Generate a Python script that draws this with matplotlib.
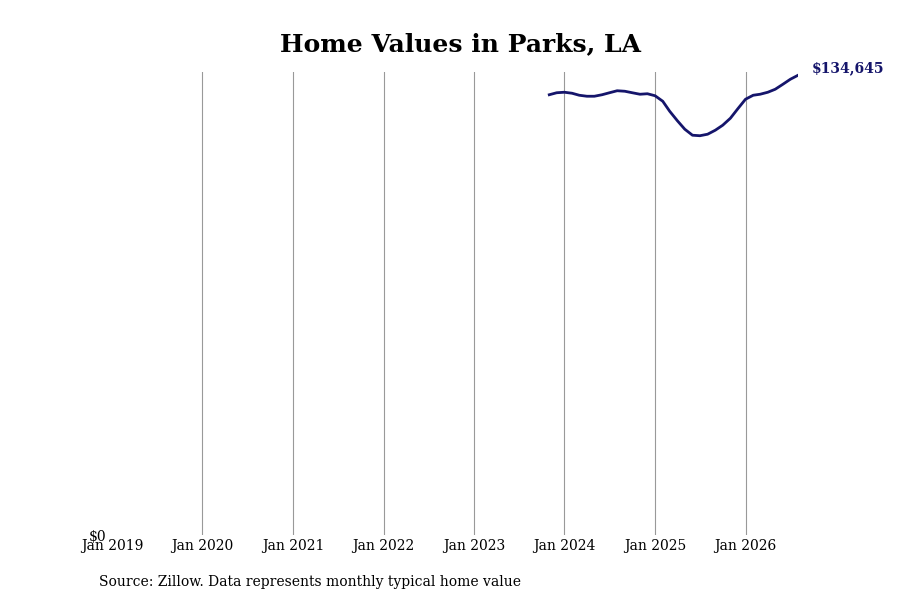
import matplotlib
matplotlib.use("Agg")
import matplotlib.pyplot as plt
import pandas as pd

# monthly typical home value, Nov 2023 - Aug 2026
start_month = "2023-11-01"
values = [
    128939, 129524, 129671, 129378, 128792, 128500, 128500, 128939,
    129524, 130110, 129963, 129524, 129085, 129232, 128646, 127036,
    124109, 121328, 118840, 117084, 116938, 117377, 118548, 120011,
    122060, 124841, 127622, 128792, 129085, 129671, 130549, 132013,
    133476, 134645,
]
years = list(range(2019, 2027))
tick_labels = ["Jan {}".format(y) for y in years]

dates = pd.date_range(start_month, periods=len(values), freq="MS")
line_color = "#15156b"

plt.rcParams["font.family"] = "DejaVu Serif"

fig = plt.figure(figsize=(9, 6), dpi=100)
ax = fig.add_axes([0.1244, 0.1083, 0.7623, 0.7717])

ax.plot(dates, values, color=line_color, linewidth=2)

tick_dates = [pd.Timestamp(y, 1, 1) for y in years]
for d in tick_dates[1:]:
    ax.axvline(d, color="#999999", linewidth=0.8, zorder=0)

ax.set_xlim(pd.Timestamp(2019, 1, 1), dates[-1])
ax.set_ylim(0, 135600)
ax.set_xticks(tick_dates)
ax.set_xticklabels(tick_labels, fontsize=10)
ax.set_yticks([0])
ax.set_yticklabels(["$0"], fontsize=10)
ax.tick_params(axis="both", length=0)
ax.tick_params(axis="x", pad=3)
ax.tick_params(axis="y", pad=4)

for s in ax.spines.values():
    s.set_visible(False)

ax.annotate("${:,}".format(values[-1]), xy=(dates[-1], values[-1]),
            xytext=(10, 5), textcoords="offset points",
            color=line_color, fontsize=10, fontweight="bold",
            ha="left", va="center")

fig.text(0.512, 0.927, "Home Values in Parks, LA", ha="center", va="center",
         fontsize=18, fontweight="bold")
fig.text(0.11, 0.03, "Source: Zillow. Data represents monthly typical home value",
         ha="left", va="center", fontsize=10)

fig.savefig("out.png", dpi=100)
